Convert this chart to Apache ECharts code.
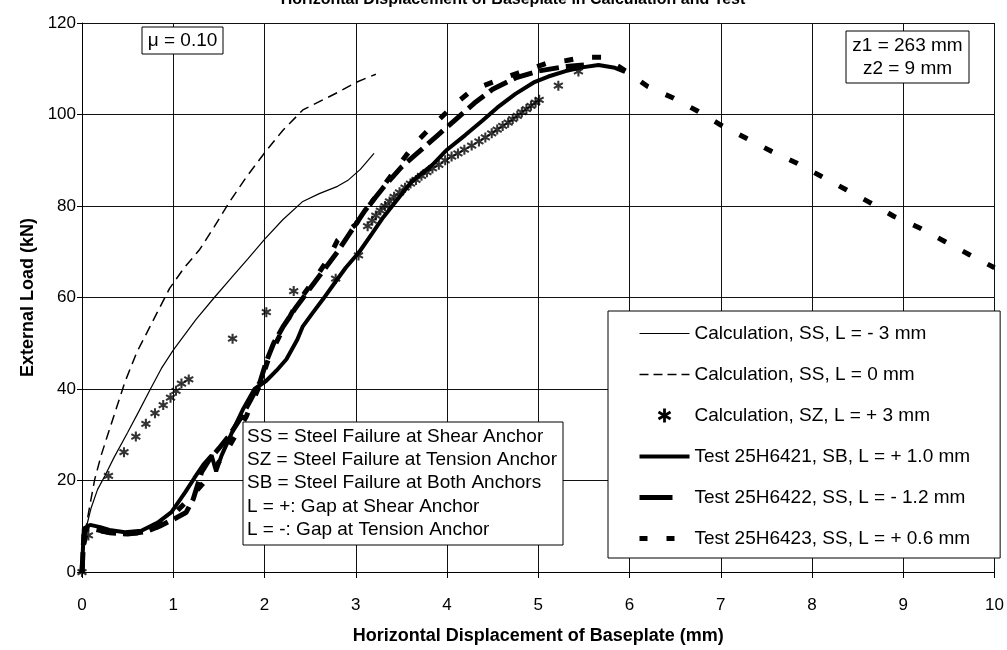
<!DOCTYPE html>
<html>
<head>
<meta charset="utf-8">
<script src="https://cdn.jsdelivr.net/npm/echarts@6/dist/echarts.min.js"></script>
<style>
  html, body { margin: 0; padding: 0; background: #fff; }
  #chart { width: 1007px; height: 650px; }
</style>
</head>
<body>
<div id="chart"></div>
<script>
// Horizontal displacement [mm] / external load [kN]
const calcSsMinus3 = [
  [0.05, 10], [0.1, 14], [0.17, 18], [0.25, 21], [0.35, 25], [0.5, 30.5], [0.62, 35],
  [0.75, 40], [0.87, 44.5], [1.0, 48.5], [1.13, 52], [1.25, 55.2], [1.45, 60],
  [1.65, 64.6], [1.82, 68.5], [2.0, 72.7], [2.2, 77], [2.42, 81], [2.6, 82.7],
  [2.8, 84.3], [2.92, 85.7], [3.05, 88], [3.2, 91.5]
]
const calcSsZero = [
  [0.02, 5], [0.05, 10.5], [0.09, 15], [0.14, 20.3], [0.21, 25.5], [0.29, 30.5],
  [0.38, 36], [0.47, 41.5], [0.6, 48], [0.78, 55], [0.96, 62], [1.12, 66.5],
  [1.29, 70.5], [1.45, 75.5], [1.62, 81], [1.8, 86.3], [2.0, 91.6], [2.2, 96.5],
  [2.42, 101], [2.6, 102.8], [2.8, 104.8], [3.0, 107], [3.22, 108.8]
]
const calcSzPlus3 = [
  [0, 0], [0.07, 8], [0.29, 21], [0.46, 26.2], [0.59, 29.6], [0.7, 32.4], [0.8, 34.7],
  [0.89, 36.5], [0.97, 38.1], [1.03, 39.6], [1.09, 41.2], [1.17, 42.1],
  [1.65, 51], [2.02, 56.8], [2.32, 61.4], [2.78, 64.1], [3.03, 69.2],
  [3.13, 75.6], [3.18, 76.8], [3.22, 77.9], [3.27, 79], [3.32, 80], [3.37, 81],
  [3.42, 82], [3.48, 83], [3.54, 84], [3.6, 84.9], [3.66, 85.7], [3.72, 86.6],
  [3.78, 87.4], [3.84, 88.2], [3.91, 89], [3.98, 90], [4.05, 90.8], [4.12, 91.5],
  [4.19, 92.3], [4.27, 93.2], [4.35, 94.1], [4.42, 95], [4.49, 95.9], [4.55, 96.7],
  [4.61, 97.5], [4.67, 98.2], [4.72, 99], [4.77, 99.7], [4.82, 100.5], [4.87, 101.2],
  [4.92, 101.9], [4.97, 102.6], [5.01, 103.2],
  [5.22, 106.3], [5.44, 109.4]
]
const test6421 = [
  [0, 0], [0.01, 5], [0.02, 9.5], [0.09, 10.3], [0.2, 9.8], [0.3, 9.2], [0.47, 8.7],
  [0.65, 9], [0.83, 10.8], [0.98, 13.1], [1.13, 17.4], [1.23, 20.5], [1.33, 23.5],
  [1.42, 25.5], [1.47, 22], [1.53, 25.5], [1.65, 30.8], [1.76, 35.4], [1.89, 40],
  [2.02, 41.8], [2.13, 44], [2.24, 46.5], [2.36, 50.8], [2.42, 53.7], [2.53, 56.7],
  [2.64, 59.6], [2.78, 63.5], [2.89, 66.5], [3.04, 70], [3.18, 74], [3.3, 77.5],
  [3.48, 82], [3.62, 85.5], [3.84, 89], [4.0, 92.3], [4.2, 95.5], [4.39, 98.7],
  [4.55, 101.5], [4.75, 104.5], [4.95, 107], [5.11, 108.3], [5.3, 109.5],
  [5.48, 110.3], [5.66, 110.8], [5.84, 110.2], [5.95, 109.3]
]
const test6422 = [
  [0, 0], [0.02, 8], [0.05, 9.5], [0.15, 9.3], [0.3, 8.6], [0.5, 8.3], [0.7, 8.8],
  [0.85, 10], [1.0, 11.5], [1.14, 13], [1.22, 16], [1.31, 21.8], [1.4, 24.7],
  [1.5, 27], [1.62, 30], [1.75, 34], [1.85, 37.7], [1.95, 41.5], [2.02, 46],
  [2.1, 50], [2.2, 53.5], [2.35, 58], [2.5, 62], [2.65, 66], [2.8, 70], [2.95, 74.5],
  [3.1, 79], [3.3, 84], [3.5, 88.5], [3.7, 92], [3.9, 95.5], [4.1, 99], [4.3, 102.5],
  [4.5, 105.5], [4.75, 108], [5.0, 109.5], [5.3, 110.5], [5.5, 110.8]
]
const test6423 = [
  [0, 0], [0.02, 6], [0.05, 9], [0.2, 9], [0.4, 8.3], [0.6, 8.5], [0.8, 9.5],
  [1.0, 12.5], [1.2, 16.5], [1.4, 21], [1.6, 27], [1.8, 34], [1.95, 41], [2.05, 47],
  [2.2, 53], [2.35, 58.5], [2.55, 64], [2.7, 68.5], [2.8, 72.5], [3.0, 76],
  [3.17, 80.7], [3.37, 86.2], [3.55, 91], [3.69, 94.5], [3.84, 97.5], [4.1, 102.5],
  [4.28, 105.4], [4.57, 107.6], [4.77, 109], [5.11, 111.3], [5.31, 111.8], [5.5, 112.5],
  [5.7, 112.5], [5.88, 110.5], [6.0, 109], [6.2, 106.1], [6.48, 103.6], [6.75, 100.7],
  [7.0, 97.7], [7.28, 94.8], [7.56, 91.9], [7.83, 89.4], [8.1, 86.5], [8.37, 83.6],
  [8.63, 80.8], [8.9, 77.7], [9.18, 75.2], [9.45, 72.3], [9.72, 69.4], [10, 66.5]
]

const seriesNames = [
  'Calculation, SS, L = - 3 mm',
  'Calculation, SS, L = 0 mm',
  'Calculation, SZ, L = + 3 mm',
  'Test 25H6421, SB, L = + 1.0 mm',
  'Test 25H6422, SS, L = - 1.2 mm',
  'Test 25H6423, SS, L = + 0.6 mm'
]
const noteLines = [
  'SS = Steel Failure at Shear Anchor',
  'SZ = Steel Failure at Tension Anchor',
  'SB = Steel Failure at Both Anchors',
  'L = +: Gap at Shear Anchor',
  'L = -: Gap at Tension Anchor'
]

const FONT = '"Liberation Sans", Arial, sans-serif'
// asterisk marker: one vertical bar and two bars at +-60 deg from vertical
const STAR = 'path://M-1.6,-8L1.6,-8L1.6,8L-1.6,8Z' +
  'M6.1,5.4L-7.7,-2.6L-6.1,-5.4L7.7,2.6Z' +
  'M-6.1,5.4L-7.7,2.6L6.1,-5.4L7.7,-2.6Z'

function lineSeries(name, data, width, type) {
  return {
    name: name,
    type: 'line',
    data: data,
    symbol: 'none',
    smooth: false,
    lineStyle: { color: '#000', width: width, type: type },
    itemStyle: { color: '#000' },
    z: 3
  }
}

// white boxes with a thin frame, drawn above grid and series
function box(x, y, w, h) {
  return {
    type: 'rect', z: 100,
    shape: { x: x, y: y, width: w, height: h },
    style: { fill: '#fff', stroke: '#000', lineWidth: 1 }
  }
}
function label(x, y, text, align, vAlign) {
  return {
    type: 'text', z: 101, x: x, y: y,
    style: { text: text, font: '19px ' + FONT, lineHeight: 23.3, fill: '#000', align: align, verticalAlign: vAlign }
  }
}

const chart = echarts.init(document.getElementById('chart'))

chart.setOption({
  backgroundColor: '#fff',
  animation: false,
  title: {
    text: 'Horizontal Displacement of Baseplate in Calculation and Test',
    left: 508,
    top: -13,
    textAlign: 'center',
    textStyle: { fontFamily: FONT, fontSize: 16, fontWeight: 'bold', color: '#000' }
  },
  grid: { left: 82, right: 10, top: 23, bottom: 77 },
  xAxis: {
    type: 'value',
    min: 0,
    max: 10,
    interval: 1,
    name: 'Horizontal Displacement of Baseplate (mm)',
    nameLocation: 'middle',
    nameGap: 55,
    nameTextStyle: { fontFamily: FONT, fontSize: 18, fontWeight: 'bold', color: '#000' },
    axisLine: { lineStyle: { color: '#000', width: 1 } },
    axisTick: { show: true, length: 6, lineStyle: { color: '#000' } },
    axisLabel: { margin: 25, fontFamily: FONT, fontSize: 17, color: '#000' },
    splitLine: { show: true, lineStyle: { color: '#111', width: 1 } }
  },
  yAxis: {
    type: 'value',
    min: 0,
    max: 120,
    interval: 20,
    name: 'External Load (kN)',
    nameLocation: 'middle',
    nameGap: 44,
    nameTextStyle: { fontFamily: FONT, fontSize: 18, fontWeight: 'bold', color: '#000' },
    axisLine: { show: true, lineStyle: { color: '#000', width: 1 } },
    axisTick: { show: true, length: 5, lineStyle: { color: '#000' } },
    axisLabel: { margin: 6, fontFamily: FONT, fontSize: 17, color: '#000' },
    splitLine: { show: true, lineStyle: { color: '#111', width: 1 } }
  },
  legend: {
    orient: 'vertical',
    left: 608,
    top: 311,
    width: 392,
    padding: [13, 30, 10, 29],
    itemWidth: 50,
    itemHeight: 14,
    itemGap: 22,
    backgroundColor: '#fff',
    borderColor: '#000',
    borderWidth: 1,
    borderRadius: 0,
    z: 20,
    textStyle: { fontFamily: FONT, fontSize: 19, color: '#000' },
    itemStyle: { opacity: 0 },
    data: [
      { name: seriesNames[0], lineStyle: { width: 1.2, type: 'solid' } },
      { name: seriesNames[1], lineStyle: { width: 1.5, type: [9, 5] } },
      { name: seriesNames[2], icon: STAR, itemStyle: { opacity: 1, color: '#000' } },
      { name: seriesNames[3], lineStyle: { width: 4, type: 'solid' } },
      { name: seriesNames[4], lineStyle: { width: 5, type: [33, 40] } },
      { name: seriesNames[5], lineStyle: { width: 5, type: [8, 19] } }
    ]
  },
  graphic: [
    box(142, 27, 81, 27),
    label(182.5, 41, 'μ = 0.10', 'center', 'middle'),
    box(846, 31, 123, 52),
    label(907.5, 57, 'z1 = 263 mm\nz2 = 9 mm', 'center', 'middle'),
    box(243, 422, 320, 123),
    label(247, 425, noteLines.join('\n'), 'left', 'top')
  ],
  series: [
    lineSeries(seriesNames[0], calcSsMinus3, 1.2, 'solid'),
    lineSeries(seriesNames[1], calcSsZero, 1.5, [10, 6]),
    {
      name: seriesNames[2],
      type: 'scatter',
      data: calcSzPlus3,
      symbol: STAR,
      symbolSize: [10, 10],
      itemStyle: { color: '#000' },
      z: 4
    },
    lineSeries(seriesNames[3], test6421, 4, 'solid'),
    lineSeries(seriesNames[4], test6422, 5, [20, 7]),
    lineSeries(seriesNames[5], test6423, 5, [9, 19])
  ]
})
</script>
</body>
</html>
